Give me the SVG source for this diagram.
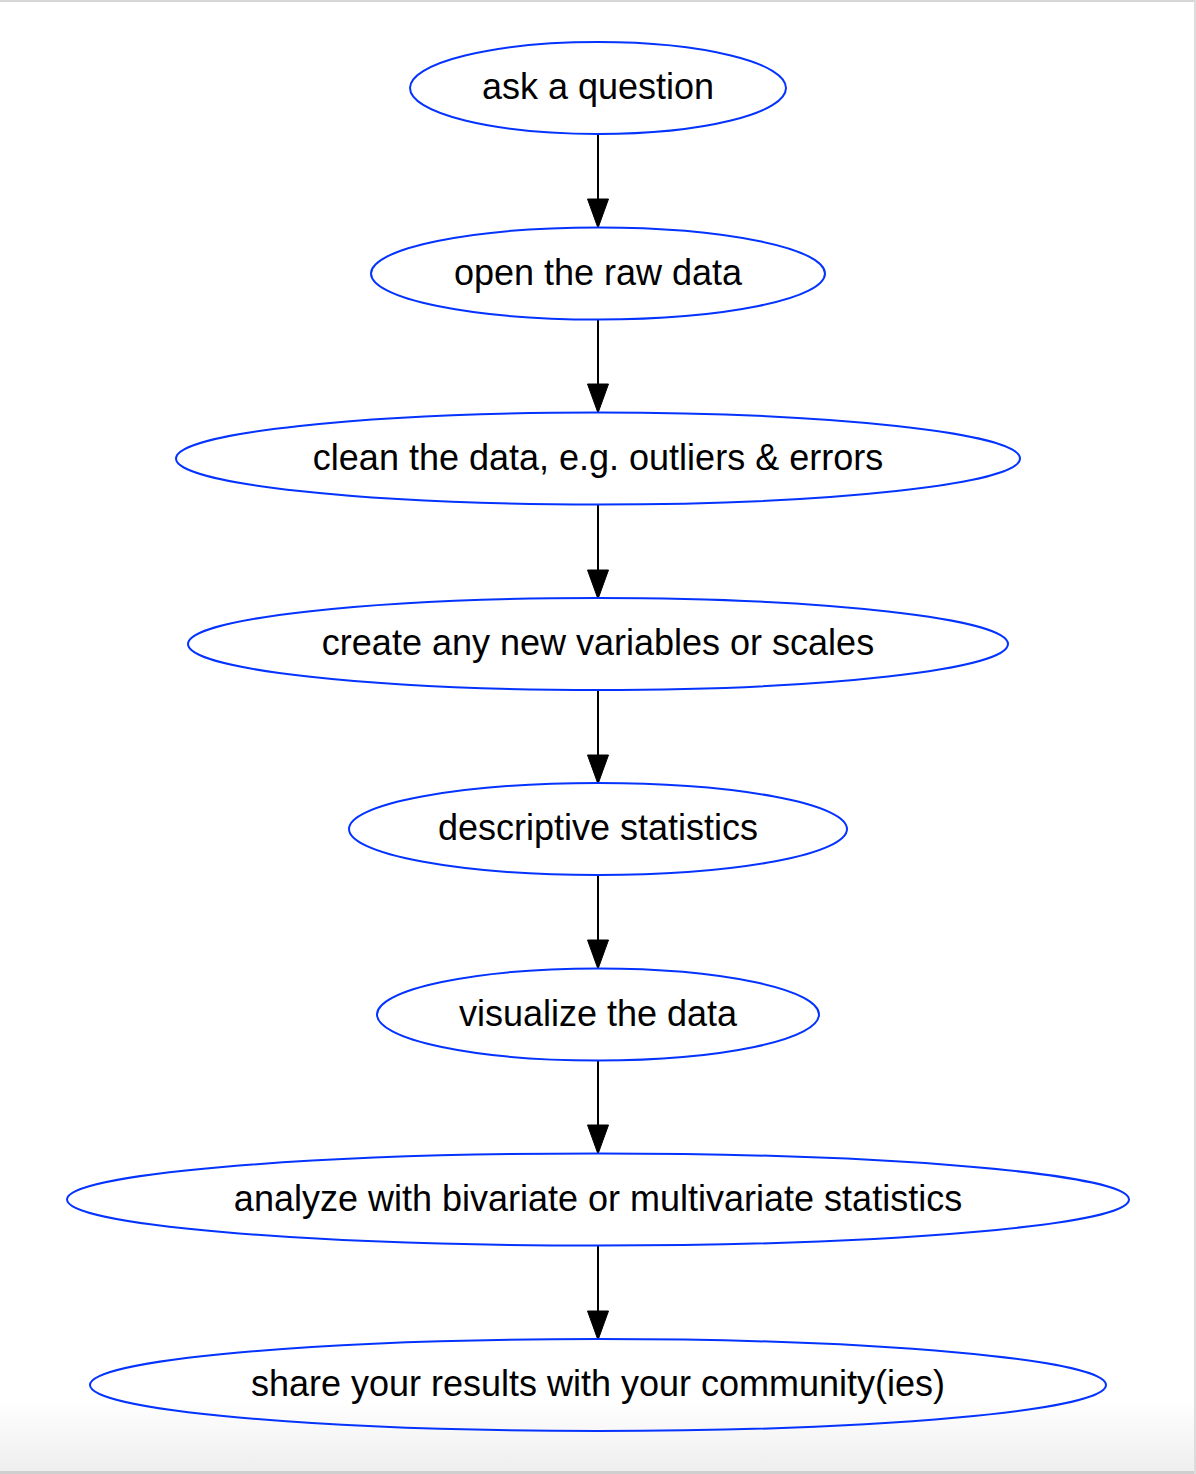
<svg xmlns="http://www.w3.org/2000/svg" width="1196" height="1474" viewBox="0 0 1196 1474">
<style>
.node ellipse{fill:none;stroke:#0433ff;stroke-width:2}
.node text{font-family:"Liberation Sans",Arial,Helvetica,sans-serif;font-size:36px;fill:#000;text-anchor:middle}
.edge line{stroke:#000;stroke-width:2}
.edge polygon{fill:#000;stroke:#000;stroke-width:1}
</style>
<defs>
<linearGradient id="bot" x1="0" y1="0" x2="0" y2="1">
<stop offset="0" stop-color="#ffffff"/>
<stop offset="1" stop-color="#eeeeee"/>
</linearGradient>
</defs>
<rect x="0" y="0" width="1196" height="1474" fill="#ffffff"/>
<rect x="0" y="1400" width="1196" height="72" fill="url(#bot)"/>
<rect x="0" y="0" width="1196" height="2" fill="#d6d6d6"/>
<rect x="0" y="1471" width="1196" height="3" fill="#cfcfcf"/>
<rect x="1194" y="0" width="2" height="1474" fill="#dcdcdc"/>
<g id="connectors" class="edge">
<line x1="598" y1="134" x2="598" y2="199"/><polygon points="587.5,199 608.5,199 598,228"/>
<line x1="598" y1="320" x2="598" y2="384"/><polygon points="587.5,384 608.5,384 598,413"/>
<line x1="598" y1="505" x2="598" y2="570"/><polygon points="587.5,570 608.5,570 598,599"/>
<line x1="598" y1="690" x2="598" y2="755"/><polygon points="587.5,755 608.5,755 598,784"/>
<line x1="598" y1="875" x2="598" y2="940"/><polygon points="587.5,940 608.5,940 598,969"/>
<line x1="598" y1="1061" x2="598" y2="1125"/><polygon points="587.5,1125 608.5,1125 598,1154"/>
<line x1="598" y1="1246" x2="598" y2="1311"/><polygon points="587.5,1311 608.5,1311 598,1340"/>
</g>
<g id="n1" class="node"><ellipse cx="598" cy="88" rx="188" ry="46"/><text x="598" y="99">ask a question</text></g>
<g id="n2" class="node"><ellipse cx="598" cy="273.5" rx="227" ry="46"/><text x="598" y="284.5">open the raw data</text></g>
<g id="n3" class="node"><ellipse cx="598" cy="458.5" rx="422" ry="46"/><text x="598" y="469.5">clean the data, e.g. outliers &amp; errors</text></g>
<g id="n4" class="node"><ellipse cx="598" cy="644" rx="410" ry="46"/><text x="598" y="655">create any new variables or scales</text></g>
<g id="n5" class="node"><ellipse cx="598" cy="829" rx="249" ry="46"/><text x="598" y="840">descriptive statistics</text></g>
<g id="n6" class="node"><ellipse cx="598" cy="1014.5" rx="221" ry="46"/><text x="598" y="1025.5">visualize the data</text></g>
<g id="n7" class="node"><ellipse cx="598" cy="1199.5" rx="531" ry="46"/><text x="598" y="1210.5">analyze with bivariate or multivariate statistics</text></g>
<g id="n8" class="node"><ellipse cx="598" cy="1385" rx="508" ry="46"/><text x="598" y="1396">share your results with your community(ies)</text></g>
</svg>
